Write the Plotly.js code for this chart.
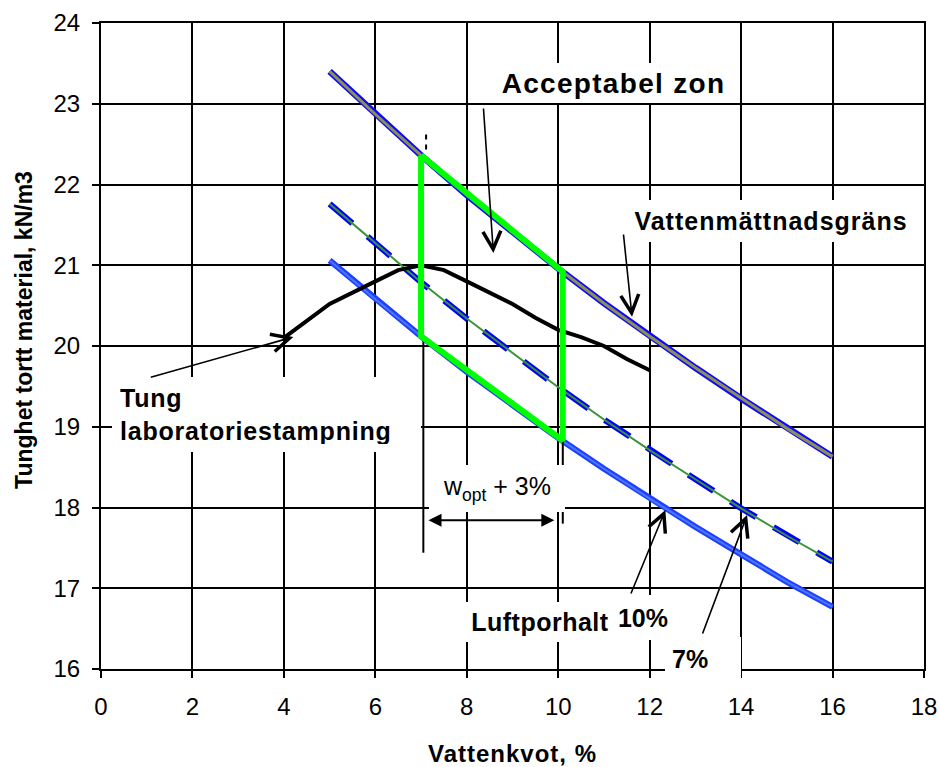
<!DOCTYPE html>
<html><head><meta charset="utf-8">
<script src="https://cdn.plot.ly/plotly-3.0.1.min.js"></script>
<style>html,body{margin:0;padding:0;background:#fff}#chart{width:939px;height:767px}</style>
</head><body><div id="chart"></div>
<script>
// ---- data ----
const waterContent = [5, 6, 7, 8, 9, 10, 11, 12, 13, 14, 15, 16];
const saturationLine = [23.40, 22.87, 22.36, 21.87, 21.41, 20.96, 20.53, 20.12, 19.73, 19.35, 18.98, 18.63];
const airVoids7 = [21.76, 21.27, 20.79, 20.34, 19.91, 19.49, 19.09, 18.71, 18.35, 17.99, 17.65, 17.33];
const airVoids10 = [21.06, 20.58, 20.12, 19.68, 19.27, 18.86, 18.48, 18.11, 17.76, 17.42, 17.08, 16.77];
const proctorW = [4, 5, 6, 6.5, 7, 7.5, 8, 9, 9.5, 10, 10.5, 11, 11.5, 12];
const proctorDensity = [20.10, 20.52, 20.80, 20.94, 21.00, 20.94, 20.80, 20.52, 20.35, 20.20, 20.11, 20.00, 19.84, 19.70];
const zoneW = [7, 10.1, 10.1, 7, 7];
const zoneDensity = [22.36, 20.92, 18.83, 20.12, 22.36];
const dimLeftW = [7.05, 7.05];
const dimLeftY = [20.12, 17.44];
const dimRightW = [10.1, 10.1];
const dimRightY = [18.83, 17.80];
const markW = [7.11, 7.11];
const markY = [22.62, 22.38];
const xTickVals = [0, 2, 4, 6, 8, 10, 12, 14, 16, 18];
const xTickText = ['0', '2', '4', '6', '8', '10', '12', '14', '16', '18'];
const yTickVals = [16, 17, 18, 19, 20, 21, 22, 23, 24];
const yTickText = ['16', '17', '18', '19', '20', '21', '22', '23', '24'];

const FONT = 'Liberation Sans, Arial, sans-serif';
const base = {type: 'scatter', mode: 'lines', hoverinfo: 'skip', showlegend: false};

const traces = [
  Object.assign({}, base, {x: waterContent, y: saturationLine, line: {color: '#0a0aff', width: 6.5}}),
  Object.assign({}, base, {x: waterContent, y: saturationLine, line: {color: '#8f8f55', width: 3}}),
  Object.assign({}, base, {x: waterContent, y: airVoids10, line: {color: '#1f3fff', width: 6}}),
  Object.assign({}, base, {x: waterContent, y: airVoids10, line: {color: '#4a78ff', width: 2}}),
  Object.assign({}, base, {x: waterContent, y: airVoids7, line: {color: '#0000ff', width: 6, dash: '30px,20px'}}),
  Object.assign({}, base, {x: waterContent, y: airVoids7, line: {color: '#3a943a', width: 2}}),
  Object.assign({}, base, {x: proctorW, y: proctorDensity, line: {color: '#000000', width: 4}}),
  Object.assign({}, base, {x: dimLeftW, y: dimLeftY, line: {color: '#000000', width: 2}}),
  Object.assign({}, base, {x: dimRightW, y: dimRightY, line: {color: '#000000', width: 2}}),
  Object.assign({}, base, {x: markW, y: markY, line: {color: '#000000', width: 2, dash: '5px,5px'}}),
  Object.assign({}, base, {x: zoneW, y: zoneDensity, line: {color: '#00ff00', width: 6}})
];

const lblFont = {family: FONT, size: 25, color: '#000'};
function box(text, x, y, w, h, extra) {
  return Object.assign({
    xref: 'x', yref: 'y', x: x, y: y, text: text, showarrow: false,
    bgcolor: '#ffffff', borderpad: 0, borderwidth: 0, width: w, height: h,
    xanchor: 'center', yanchor: 'middle', align: 'center', valign: 'middle', font: lblFont
  }, extra || {});
}
function arrow(ax, ay, x, y, extra) {
  return Object.assign({
    xref: 'x', yref: 'y', axref: 'x', ayref: 'y', x: x, y: y, ax: ax, ay: ay, text: '',
    showarrow: true, arrowhead: 5, arrowsize: 2.2, arrowwidth: 1.6, arrowcolor: '#000',
    standoff: 0, startstandoff: 0
  }, extra || {});
}

const annotations = [
  box('<b><span style="letter-spacing:1.3px">Acceptabel zon</span></b>', 11.216, 23.257, 247, 40, {font: {family: FONT, size: 28, color: '#000'}}),
  box('<b><span style="letter-spacing:1px">Vattenmättnadsgräns</span></b>', 14.66, 21.548, 288, 42),
  box('<b><span style="letter-spacing:0.8px">Tung<br>laboratoriestampning</span></b>', 0.247, 19.616, 293, 59,
      {xanchor: 'left', yanchor: 'top', align: 'left', borderpad: 8}),
  box('w<sub>opt</sub> + 3%', 8.650, 18.235, 136, 47, {font: {family: FONT, size: 25, color: '#000'}}),
  box('<b><span style="letter-spacing:0.5px">Luftporhalt</span></b>', 9.608, 16.582, 150, 40),
  box('<b>10%</b>', 11.861, 16.638, 54, 45),
  box('<b>7%</b>', 12.343, 16.396, 62, 29, {xanchor: 'left', yanchor: 'top', align: 'left', borderpad: 7}),
  arrow(8.363, 22.960, 8.582, 21.152),
  arrow(11.424, 21.399, 11.614, 20.363),
  arrow(1.056, 19.607, 4.206, 20.112),
  arrow(11.577, 16.916, 12.343, 17.969),
  arrow(13.145, 16.421, 14.130, 17.907),
  arrow(7.130, 17.842, 9.915, 17.842, {arrowside: 'end+start', arrowhead: 2, startarrowhead: 2,
      arrowsize: 1.3, startarrowsize: 1.3, arrowwidth: 2})
];

const axisCommon = {
  showline: true, linecolor: '#000', linewidth: 2, mirror: true,
  showgrid: true, gridcolor: '#000', gridwidth: 2, zeroline: false,
  ticks: 'outside', ticklen: 7, tickwidth: 2, tickcolor: '#000',
  tickfont: {family: FONT, size: 24, color: '#000'}, fixedrange: true
};

const layout = {
  width: 939, height: 767,
  margin: {l: 101, r: 15, t: 23, b: 98, pad: 0},
  paper_bgcolor: '#fff', plot_bgcolor: '#fff',
  font: {family: FONT, color: '#000'},
  xaxis: Object.assign({}, axisCommon, {
    range: [0, 18], tickmode: 'array', tickvals: xTickVals, ticktext: xTickText, ticklabelstandoff: 8,
    title: {text: '<b><span style="letter-spacing:1px">Vattenkvot, %</span></b>', font: {family: FONT, size: 24, color: '#000'}, standoff: 26}
  }),
  yaxis: Object.assign({}, axisCommon, {
    range: [16, 24], tickmode: 'array', tickvals: yTickVals, ticktext: yTickText, ticklabelstandoff: 7,
    title: {text: '<b>\u00a0\u00a0\u00a0\u00a0\u00a0Tunghet tortt material, kN/m3</b>', font: {family: FONT, size: 23, color: '#000'}, standoff: 14}
  }),
  annotations: annotations
};

Plotly.newPlot('chart', traces, layout, {displayModeBar: false, staticPlot: true});
</script>
</body></html>
